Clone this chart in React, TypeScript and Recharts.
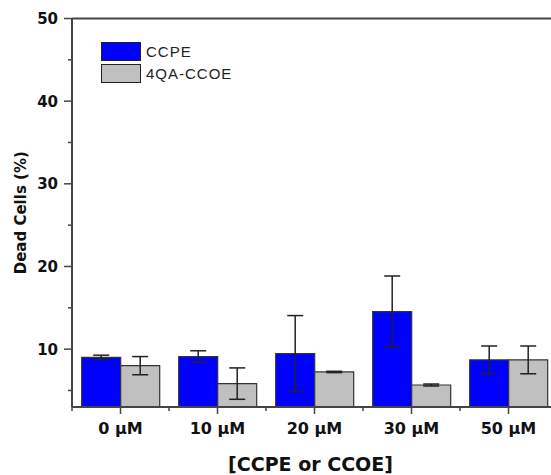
import { BarChart, Bar, XAxis, YAxis, ErrorBar, Legend, ReferenceLine } from "recharts";

const concentrations = ["0 µM", "10 µM", "20 µM", "30 µM", "50 µM"];
const ccpe = [9.0, 9.1, 9.46, 14.55, 8.7];
const ccpeErr = [0.27, 0.7, 4.6, 4.3, 1.68];
const ccoe = [8.0, 5.83, 7.24, 5.66, 8.7];
const ccoeErr = [1.1, 1.9, 0.08, 0.12, 1.68];
const yTicks = [5, 10, 15, 20, 25, 30, 35, 40, 45, 50];
const seriesNames = ["CCPE", "4QA-CCOE"];

const data = concentrations.map((c, i) => ({
  conc: c,
  ccpe: ccpe[i],
  ccpeErr: ccpeErr[i],
  ccoe: ccoe[i],
  ccoeErr: ccoeErr[i],
}));

const AXIS = "#444";
const INK = "#111";
const BLUE = "#0000ff";
const GRAY = "#c0c0c0";
const FONT = "'DejaVu Sans', sans-serif";

const Y_TICK_SIZE = 8;
const Y_TICK_MARGIN = 6;
const X_TICK_SIZE = 6;
const X_TICK_MARGIN = 10;

function YTick(props: any) {
  const { x, y, payload } = props;
  const major = payload.value % 10 === 0;
  const axisX = x + Y_TICK_SIZE + Y_TICK_MARGIN;
  return (
    <g>
      <line x1={axisX - (major ? 8 : 4)} x2={axisX} y1={y} y2={y} stroke={AXIS} strokeWidth={1.5} />
      {major && (
        <text x={x} y={y} dy="0.36em" textAnchor="end" fontFamily={FONT} fontWeight="bold"
          fontSize={15} fill={INK}>
          {payload.value}
        </text>
      )}
    </g>
  );
}

function XTick(props: any) {
  const { x, y, payload, index, width, visibleTicksCount } = props;
  const axisY = y - X_TICK_SIZE - X_TICK_MARGIN;
  const half = payload.offset || width / visibleTicksCount / 2;
  return (
    <g>
      <line x1={x} x2={x} y1={axisY - 1} y2={axisY + 7} stroke={AXIS} strokeWidth={1.5} />
      <line x1={x + half} x2={x + half} y1={axisY} y2={axisY + 4} stroke={AXIS} strokeWidth={1.5} />
      {index === 0 && (
        <line x1={x - half} x2={x - half} y1={axisY} y2={axisY + 4} stroke={AXIS} strokeWidth={1.5} />
      )}
      <text x={x} y={y} dy="0.71em" textAnchor="middle" fontFamily={FONT} fontWeight="bold"
        fontSize={16} fill={INK}>
        {payload.value}
      </text>
    </g>
  );
}

function LegendBox(props: any) {
  const items = [...(props.payload ?? [])].sort(
    (a: any, b: any) => seriesNames.indexOf(a.value) - seriesNames.indexOf(b.value));
  return (
    <div style={{ fontFamily: "'Liberation Sans', Arial, sans-serif", fontSize: 15, color: "#222" }}>
      {items.map((it: any) => (
        <div key={it.value} style={{ display: "flex", alignItems: "center", height: 22 }}>
          <span style={{
            display: "inline-block", width: 38, height: 17, background: it.color,
            border: "1.5px solid #222", marginRight: 5,
          }} />
          <span style={{ letterSpacing: 1 }}>{it.value}</span>
        </div>
      ))}
    </div>
  );
}

export default function App() {
  return (
    <div style={{
      position: "absolute", left: 0, top: 0, width: 551, height: 475,
      overflow: "hidden", background: "#fff",
    }}>
      <BarChart width={570} height={475} data={data}
        margin={{ top: 18.5, right: 13, bottom: 0, left: 0 }}
        barCategoryGap="10%" barGap={0}>
        <XAxis dataKey="conc" height={68} stroke={AXIS} strokeWidth={2}
          axisLine={{ stroke: AXIS, strokeWidth: 2 }} tickLine={false}
          tickSize={X_TICK_SIZE} tickMargin={X_TICK_MARGIN} tick={<XTick />} interval={0}
          label={{
            value: "[CCPE or CCOE]", position: "insideBottom", offset: 4, dx: -4,
            fontFamily: FONT, fontWeight: "bold", fontSize: 19, fill: INK,
          }} />
        <YAxis width={72} domain={[3, 50]} ticks={yTicks} allowDataOverflow
          axisLine={{ stroke: AXIS, strokeWidth: 2 }} tickLine={false}
          tickSize={Y_TICK_SIZE} tickMargin={Y_TICK_MARGIN} tick={<YTick />} interval={0}
          label={{
            value: "Dead Cells (%)", angle: -90, position: "center", dx: -15,
            fontFamily: FONT, fontWeight: "bold", fontSize: 15, fill: INK,
          }} />
        <ReferenceLine y={50} stroke={AXIS} strokeWidth={2} />
        <Legend layout="vertical" align="center" verticalAlign="middle" content={<LegendBox />}
          wrapperStyle={{ position: "absolute", left: 101, top: 40, width: "auto", bottom: "auto" }} />
        <Bar dataKey="ccpe" name="CCPE" fill={BLUE} stroke="#333" strokeWidth={1.2}
          isAnimationActive={false}>
          <ErrorBar dataKey="ccpeErr" width={8} stroke="#222" strokeWidth={1.5} direction="y" />
        </Bar>
        <Bar dataKey="ccoe" name="4QA-CCOE" fill={GRAY} stroke="#333" strokeWidth={1.2}
          isAnimationActive={false}>
          <ErrorBar dataKey="ccoeErr" width={8} stroke="#222" strokeWidth={1.5} direction="y" />
        </Bar>
      </BarChart>
    </div>
  );
}
